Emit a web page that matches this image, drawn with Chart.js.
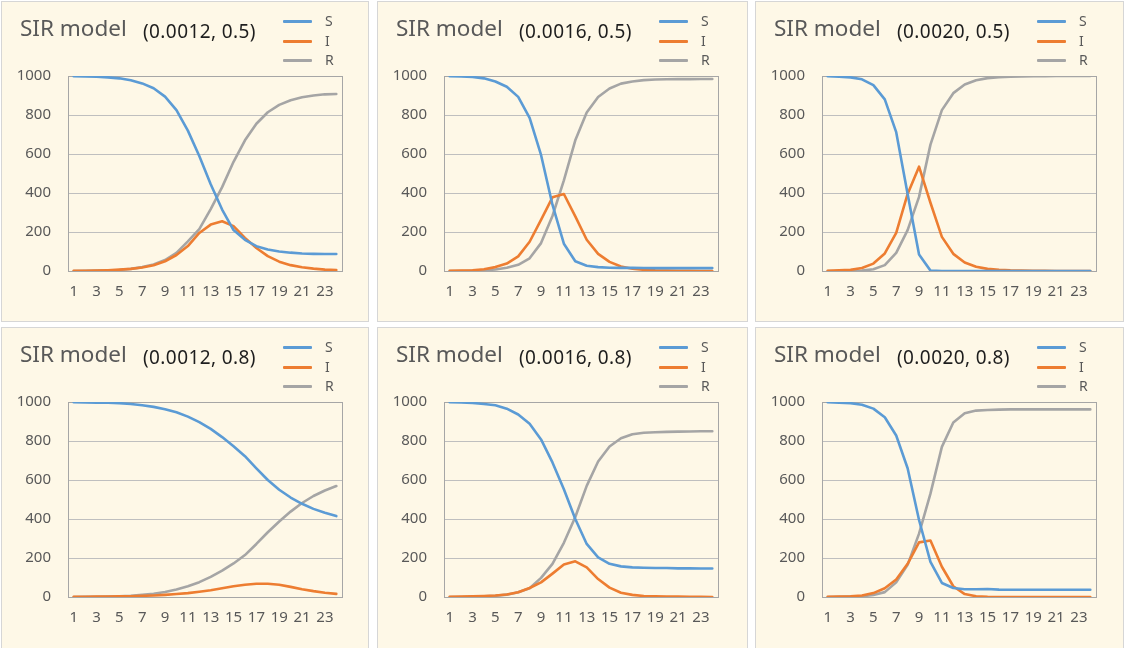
<!DOCTYPE html>
<html lang="en">
<head>
<meta charset="UTF-8">
<title>SIR model</title>
<script src="https://cdn.jsdelivr.net/npm/chart.js"></script>
<style>
  body { margin: 0; width: 1125px; height: 648px; overflow: hidden; position: relative; background: #fff; font-family: "Noto Sans", sans-serif; }
  .panel { position: absolute; box-sizing: border-box; background: #FEF8E7; border: 1px solid #D6D6D6; }
  .panel canvas { position: absolute; left: -1px; top: -1px; }
  .title { position: absolute; left: 18px; top: 15px; font-size: 22.5px; line-height: 1; color: #595959; white-space: nowrap; }
  .params { position: absolute; left: 141px; top: 20px; font-size: 19px; letter-spacing: 0.4px; line-height: 1; color: #1e1e1e; white-space: nowrap; }
  .leg { position: absolute; left: 281px; height: 14px; font-size: 14px; line-height: 14px; color: #595959; }
  .leg i { position: absolute; left: 0; top: 6px; width: 29px; height: 3px; border-radius: 1px; }
  .leg b { position: absolute; left: 42px; top: 0; font-weight: normal; }
</style>
</head>
<body>
<div id="wrap"></div>
<script>
// days
const days = ['1','2','3','4','5','6','7','8','9','10','11','12','13','14','15','16','17','18','19','20','21','22','23','24'];
const params = ['(0.0012, 0.5)', '(0.0016, 0.5)', '(0.0020, 0.5)', '(0.0012, 0.8)', '(0.0016, 0.8)', '(0.0020, 0.8)'];
const seriesNames = ['S', 'I', 'R'];
const colors = ['#5B9BD5', '#ED7D31', '#A5A5A5'];

// (0.0012, 0.5)
const S1 = [999,998,996,993,988,978,962,937,894,825,720,590,445,315,210,160,127,110,100,94,90,88,87,87];
const I1 = [1,1,2,4,7,11,18,30,50,82,128,195,238,255,230,170,118,76,48,30,19,12,7,5];
const R1 = [0,1,2,3,5,11,20,33,56,93,152,215,317,430,560,670,755,814,852,876,891,900,906,908];
// (0.0016, 0.5)
const S2 = [999,998,995,988,972,945,893,785,595,340,140,50,27,20,17,16,16,15,15,15,15,15,15,15];
const I2 = [1,2,4,9,20,38,75,150,262,378,395,280,160,88,47,23,12,6,3,2,1,1,0,0];
const R2 = [0,0,1,3,8,17,32,65,143,282,465,670,813,892,936,961,972,979,982,983,984,984,985,985];
// (0.0020, 0.5)
const S3 = [999,997,993,983,953,880,712,395,85,2,0,0,0,0,0,0,0,0,0,0,0,0,0,0];
const I3 = [1,3,6,15,38,90,195,395,535,350,175,88,44,22,11,6,3,2,1,1,0,0,0,0];
const R3 = [0,0,1,2,9,30,93,210,380,648,825,912,956,978,989,994,997,998,999,999,1000,1000,1000,1000];
// (0.0012, 0.8)
const S4 = [999,998,997,996,994,990,983,975,963,947,925,897,862,820,773,722,660,600,550,510,478,452,432,415];
const I4 = [1,1,2,2,3,4,6,8,11,15,20,27,35,45,55,63,68,68,63,52,40,30,22,16];
const R4 = [0,1,1,2,3,6,11,17,26,38,55,76,103,135,172,215,272,332,387,438,482,518,546,569];
// (0.0016, 0.8)
const S5 = [999,998,995,990,983,966,936,888,808,690,553,400,272,203,170,157,152,150,149,149,147,147,146,146];
const I5 = [1,2,3,5,8,13,24,46,75,120,167,183,152,92,48,22,11,5,3,2,2,1,1,0];
const R5 = [0,0,1,3,6,12,24,45,98,170,278,410,570,695,772,814,835,842,845,847,848,849,850,850];
// (0.0020, 0.8)
const S6 = [999,997,994,986,966,922,828,660,395,180,72,46,40,40,41,38,37,37,37,37,37,37,37,37];
const I6 = [1,2,4,8,20,45,90,170,280,290,155,55,15,4,1,0,0,0,0,0,0,0,0,0];
const R6 = [0,1,2,4,10,25,75,165,325,530,770,895,942,956,959,961,962,962,962,962,962,962,962,962];

const allData = [[S1,I1,R1],[S2,I2,R2],[S3,I3,R3],[S4,I4,R4],[S5,I5,R5],[S6,I6,R6]];

// panel boxes: left, top, width, height
const boxes = [
    [1, 1, 368, 321], [377, 1, 371, 321], [755, 1, 369, 321],
    [1, 327, 368, 322], [377, 327, 371, 322], [755, 327, 369, 322]
];

const plotBorder = {
    id: 'plotBorder',
    beforeDatasetsDraw(chart) {
        const a = chart.chartArea, ctx = chart.ctx;
        ctx.save();
        ctx.strokeStyle = '#A6A6A6';
        ctx.lineWidth = 1;
        ctx.strokeRect(Math.round(a.left) + 0.5, Math.round(a.top) + 0.5,
                       Math.round(a.right - a.left), Math.round(a.bottom - a.top));
        ctx.restore();
    }
};

const wrap = document.getElementById('wrap');

boxes.forEach((b, k) => {
    const panel = document.createElement('div');
    panel.className = 'panel';
    panel.style.left = b[0] + 'px';
    panel.style.top = b[1] + 'px';
    panel.style.width = b[2] + 'px';
    panel.style.height = b[3] + 'px';

    const canvas = document.createElement('canvas');
    canvas.width = b[2];
    canvas.height = b[3];
    panel.appendChild(canvas);

    const t = document.createElement('div');
    t.className = 'title';
    t.textContent = 'SIR model';
    panel.appendChild(t);

    const p = document.createElement('div');
    p.className = 'params';
    p.textContent = params[k];
    panel.appendChild(p);

    seriesNames.forEach((name, j) => {
        const row = document.createElement('div');
        row.className = 'leg';
        row.style.top = (12 + j * 19.5) + 'px';
        row.innerHTML = '<i style="background:' + colors[j] + '"></i><b>' + name + '</b>';
        panel.appendChild(row);
    });

    wrap.appendChild(panel);

    const bottomGap = b[3] - 270;
    new Chart(canvas.getContext('2d'), {
        type: 'line',
        data: {
            labels: days,
            datasets: seriesNames.map((name, j) => ({
                label: name,
                data: allData[k][j],
                borderColor: colors[j],
                backgroundColor: colors[j],
                borderWidth: 2.6,
                pointRadius: 0,
                tension: 0,
                borderCapStyle: 'round',
                borderJoinStyle: 'round'
            }))
        },
        options: {
            responsive: false,
            animation: false,
            layout: { padding: { top: 75, right: b[2] - 341, bottom: 0, left: 0 } },
            plugins: { legend: { display: false }, title: { display: false }, tooltip: { enabled: false } },
            scales: {
                x: {
                    offset: true,
                    grid: { display: false, drawTicks: false },
                    border: { display: false },
                    afterFit: s => { s.height = bottomGap; },
                    ticks: {
                        autoSkip: false,
                        maxRotation: 0,
                        padding: 12,
                        color: '#595959',
                        font: { family: 'Noto Sans', size: 15 },
                        callback: function (v, i) { return i % 2 === 0 ? this.getLabelForValue(v) : ''; }
                    }
                },
                y: {
                    min: 0,
                    max: 1000,
                    grid: { color: '#BFBFBF', lineWidth: 1, drawTicks: false },
                    border: { display: false },
                    afterFit: s => { s.width = 67; },
                    ticks: {
                        stepSize: 200,
                        padding: 17,
                        color: '#595959',
                        font: { family: 'Noto Sans', size: 15 },
                        callback: v => String(v)
                    }
                }
            }
        },
        plugins: [plotBorder]
    });
});
</script>
</body>
</html>
